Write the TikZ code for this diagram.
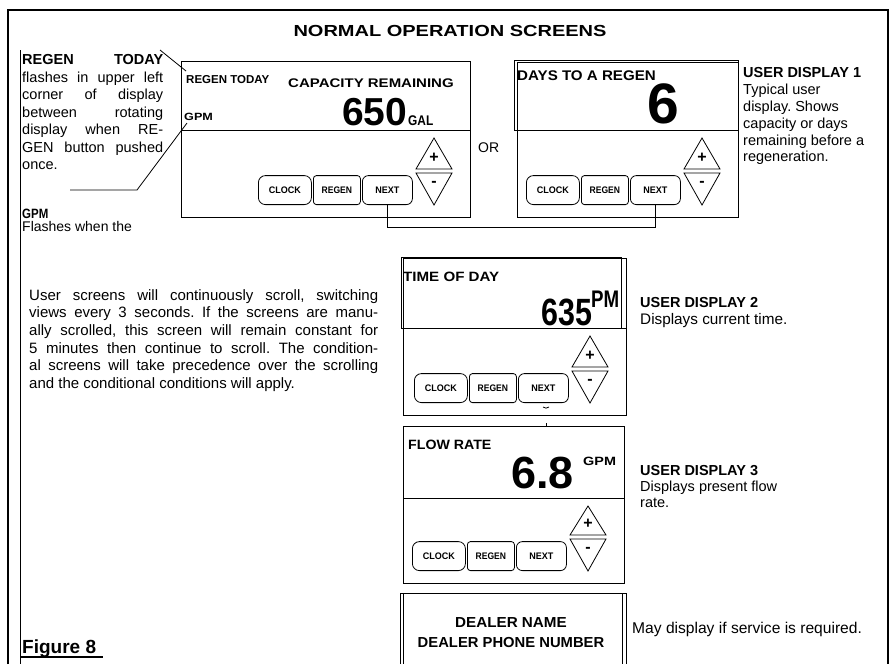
\documentclass[tikz,border=0pt]{standalone}
\usepackage{fontspec}
\setmainfont{Liberation Sans}
\usepackage{graphicx}
\tolerance=10000
\hbadness=10000
\frenchspacing
\newcommand\fsz[2]{\fontsize{#1}{#2}\selectfont}
\tikzset{
  box/.style={line width=0.8pt},
  frame/.style={line width=2.2pt},
  btn/.style={draw, line width=0.8pt, inner sep=0pt, minimum height=29pt, anchor=south west, font=\bfseries\fsz{9.5}{10}},
  lbl/.style={inner sep=0pt, anchor=base west},
  sym/.style={inner sep=0pt, font=\bfseries\fsz{16}{16}},
  note/.style={inner sep=0pt, anchor=north west, align=left},
}
% #1 prefix, #2 x1 (right edge), #3 divider y, #4 bottom y
\newcommand\panelbtns[4]{%
  \node[btn, rounded corners=7pt, minimum width=53pt] (#1clock) at ({#2-212},{#4-12}) {\scalebox{0.95}[1]{CLOCK}};
  \node[btn, rounded corners=3pt, minimum width=47pt] (#1regen) at ({#2-157},{#4-12}) {\scalebox{0.9}[1]{REGEN}};
  \node[btn, rounded corners=6pt, minimum width=50pt] (#1next) at ({#2-108},{#4-12}) {\scalebox{0.95}[1]{NEXT}};
  \draw[box] ({#2-54},{#4-48}) -- ({#2-18},{#4-48}) -- ({#2-36},{#3+8}) -- cycle;
  \draw[box] ({#2-54},{#4-44}) -- ({#2-18},{#4-44}) -- ({#2-36},{#4-12}) -- cycle;
  \node[sym] (#1plus) at ({#2-36},{#4-59}) {+};
  \node[sym] (#1minus) at ({#2-36},{#4-33}) {-};
}
\begin{document}
\begin{tikzpicture}[x=1pt,y=-1pt]
\useasboundingbox (0,0) rectangle (893,664);
% outer frame
\draw[frame] (8,664) -- (8,10) -- (888,10) -- (888,664);
\draw[box] (20,50) -- (20,664);
% title
\node[lbl, anchor=base, font=\bfseries\fsz{16}{16}] (title) at (450,36) {\scalebox{1.25}[1]{NORMAL OPERATION SCREENS}};

% display 1
\draw[box] (181,61) rectangle (470,217);
\draw[box] (181,130) -- (470,130);
\panelbtns{da}{470}{130}{217}
\node[lbl, font=\bfseries\fsz{11.5}{12}] (daregen) at (186,83) {REGEN TODAY};
\node[lbl, font=\bfseries\fsz{12.5}{13}] (dacap) at (288,87) {\scalebox{1.2}[1]{CAPACITY REMAINING}};
\node[lbl, font=\bfseries\fsz{39}{39}] (davalue) at (342,125) {650};
\node[lbl, font=\bfseries\fsz{14}{14}] (dagal) at (408,125) {\scalebox{0.85}[1]{GAL}};
\node[lbl, font=\bfseries\fsz{10.5}{11}] (dagpm) at (184,120) {\scalebox{1.2}[1]{GPM}};

% OR
\node[lbl, font=\fsz{14}{14}] (or) at (478,152) {OR};

% display 2
\draw[box] (517,62) rectangle (738,217);
\draw[box] (514,60) rectangle (738,130);
\panelbtns{db}{738}{130}{217}
\node[lbl, font=\bfseries\fsz{14}{14}] (dbdays) at (517,80) {\scalebox{1.08}[1]{DAYS TO A REGEN}};
\node[lbl, font=\bfseries\fsz{57}{57}] (dbvalue) at (647,123) {6};

% connector between NEXT buttons
\draw[box] (danext.south) -- ++(0,22) -| (dbnext.south);

% user display 1 note
\node[note, font=\fsz{14.5}{16.8}] (ud1) at (743,67.6) {\textbf{USER DISPLAY 1}\\Typical user\\display. Shows\\capacity or days\\remaining before a\\regeneration.};

% left note
\node[inner sep=0pt, anchor=north west, text width=141pt, align=justify, font=\fsz{14.5}{17.5}] (leftnote) at (22,54.6) {\textbf{REGEN}\hfill\textbf{TODAY}\linebreak flashes in upper left\linebreak corner of display\linebreak between rotating\linebreak display when RE-\linebreak GEN button pushed\linebreak once.};
\coordinate (la) at (160,50);
\coordinate (lb) at (186,71);
\draw[box] (la) -- (lb);
\coordinate (lc) at (70,190);
\coordinate (ld) at (137,190);
\coordinate (le) at (187,123);
\draw[box] (lc) -- (ld) -- (le);
\node[lbl, font=\bfseries\fsz{13.5}{14}] (gpmhead) at (22,218) {\scalebox{0.85}[1]{GPM}};
\node[lbl, font=\fsz{14}{14}] (gpmtext) at (22,231) {Flashes when the};

% paragraph
\node[inner sep=0pt, anchor=north west, text width=349pt, align=justify, font=\fsz{15}{17.6}] (para) at (29,289.3) {User screens will continuously scroll, switching\linebreak views every 3 seconds. If the screens are manu-\linebreak ally scrolled, this screen will remain constant for\linebreak 5 minutes then continue to scroll. The condition-\linebreak al screens will take precedence over the scrolling\linebreak and the conditional conditions will apply.};

% display 3
\draw[box] (403,258) rectangle (626,415);
\draw[box] (401,257) rectangle (621,328);
\draw[box] (403,328) -- (626,328);
\panelbtns{dc}{626}{328}{415}
\node[lbl, font=\bfseries\fsz{13.5}{14}] (dctime) at (403,281) {\scalebox{1.12}[1]{TIME OF DAY}};
\node[lbl, font=\bfseries\fsz{38}{38}] (dcvalue) at (541,325) {\scalebox{0.8}[1]{635}};
\node[lbl, font=\bfseries\fsz{24}{24}] (dcpm) at (591,307) {\scalebox{0.78}[1]{PM}};
\draw[box] (543,407) to[bend right=40] (549,407);
\node[note, font=\fsz{14.5}{16.5}] (ud2) at (640,297.6) {\textbf{USER DISPLAY 2}\\{\fsz{15.3}{16.5}Displays current time.}};

% display 4
\draw[box] (546,423) -- (546,427);
\draw[box] (403,426) rectangle (624,583);
\draw[box] (403,498) -- (624,498);
\panelbtns{dd}{624}{498}{583}
\node[lbl, font=\bfseries\fsz{13.5}{14}] (ddflow) at (408,449) {\scalebox{1.05}[1]{FLOW RATE}};
\node[lbl, font=\bfseries\fsz{45}{45}] (ddvalue) at (511,488) {6.8};
\node[lbl, font=\bfseries\fsz{12}{12}] (ddgpm) at (583,465) {\scalebox{1.2}[1]{GPM}};
\node[note, font=\fsz{14.5}{16}] (ud3) at (640,465.6) {\textbf{USER DISPLAY 3}\\Displays present flow\\rate.};

% dealer screen
\draw[box] (400,664) -- (400,593) -- (626,593) -- (626,664);
\draw[box] (403,593) -- (403,664);
\draw[box] (622,593) -- (622,664);
\node[lbl, anchor=base, font=\bfseries\fsz{14.5}{15}] (dname) at (511,627) {\scalebox{1.05}[1]{DEALER NAME}};
\node[lbl, anchor=base, font=\bfseries\fsz{14.5}{15}] (dphone) at (511,647) {\scalebox{1.02}[1]{DEALER PHONE NUMBER}};
\node[lbl, font=\fsz{15.6}{16}] (service) at (632,633) {May display if service is required.};

% figure label
\node[lbl, font=\bfseries\fsz{19}{19}] (fig) at (22,653) {Figure 8};
\coordinate (ua) at (21,657);
\coordinate (ub) at (103,657);
\draw[line width=1.8pt] (ua) -- (ub);
\end{tikzpicture}
\end{document}
